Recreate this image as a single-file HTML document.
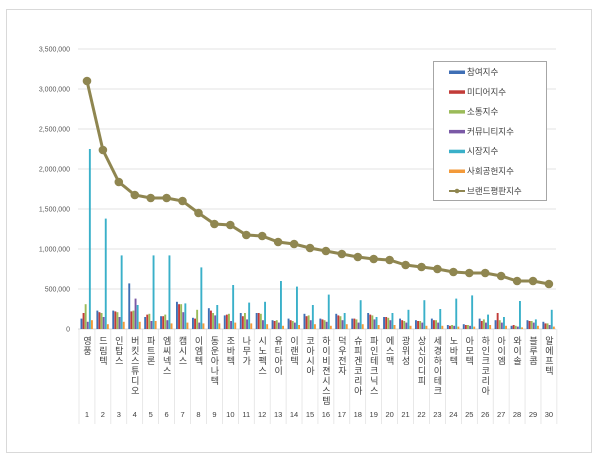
<!DOCTYPE html>
<html><head><meta charset="utf-8"><style>
body{margin:0;background:#fff;}
svg{display:block;font-family:"Liberation Sans","Noto Sans CJK KR",sans-serif;}
</style></head><body>
<svg id="s" width="600" height="459" xmlns="http://www.w3.org/2000/svg"></svg>
<script>
const s=document.getElementById('s');
let h='<rect x="6.5" y="9.5" width="585" height="443" fill="#fff" stroke="#d9d9d9"/>';
const y0=329,k=40/500000;
const labs=["0","500,000","1,000,000","1,500,000","2,000,000","2,500,000","3,000,000","3,500,000"];
for(let i=0;i<8;i++){const y=y0-i*40;
 if(i>0)h+=`<line x1="78" x2="556" y1="${y}" y2="${y}" stroke="#e3e3e3"/>`;
 h+=`<text x="70" y="${y+2.5}" font-size="7" fill="#595959" text-anchor="end">${labs[i]}</text>`;}
h+=`<line x1="78" x2="556" y1="${y0}" y2="${y0}" stroke="#d9d9d9"/>`;
const names=["영풍","드림텍","인탑스","버킷스튜디오","파트론","엠씨넥스","캠시스","이엠텍","동운아나텍","좋바텍","나무가","시노펙스","유티아이","이랜텍","코아시아","하이비젼시스템","덕우전자","슈피겐코리아","파인테크닉스","에스맥","광위성","상신이디피","세경하이테크","노바텍","아모텍","하인크코리아","아이엠","와이솔","블루콤","알에프텍"];
names[9]="조바텍";names[20]="광위성";
const cw=15.93,x0=79;
const line=[81,150,182,195,198,198,201,213,224,225,235,236,242,244,248,251,254,257,259,260,265,267,269,272,273,273,276,281,281,284];
const mk=[2250,1380,920,300,920,920,320,770,300,550,330,340,600,530,300,430,200,360,150,200,240,360,250,380,420,180,150,350,120,240];
const b1=[130,230,230,570,150,160,340,140,260,170,200,200,110,130,190,130,190,130,200,150,130,110,130,50,60,130,110,40,110,90];
const b2=[200,210,220,220,180,160,310,130,230,180,160,200,100,110,160,120,170,130,180,150,110,100,110,40,50,100,200,50,100,70];
const b3=[310,200,210,230,190,180,310,240,200,190,200,190,110,100,170,110,160,120,170,140,100,100,110,50,50,120,110,40,100,70];
const b4=[90,150,150,380,100,110,210,80,170,100,120,110,80,80,110,90,110,80,120,110,80,80,80,40,40,80,80,30,80,50];
const b6=[110,60,90,90,100,70,80,70,70,80,70,60,40,50,60,40,60,60,50,50,40,40,40,30,30,50,40,20,40,30];
const ser=[[b1,"#3f6fb5"],[b2,"#c23b38"],[b3,"#9bbb59"],[b4,"#7a59a6"],[mk,"#3ab0c9"],[b6,"#f39a3a"]];
for(let i=0;i<30;i++){const cx=x0+cw*i+cw/2;
 ser.forEach((sv,j)=>{const v=sv[0][i]*1000*k;const x=cx-6.5+j*2.1;
  h+=`<rect x="${x.toFixed(1)}" y="${(y0-v).toFixed(1)}" width="1.9" height="${v.toFixed(1)}" fill="${sv[1]}"/>`;});
 const sx=x0+cw*(i+1);
 h+=`<line x1="${sx}" x2="${sx}" y1="${y0}" y2="424" stroke="#d9d9d9" stroke-width="0.6"/>`;
 h+=`<text x="${cx}" y="336" font-size="9" fill="#404040" style="writing-mode:vertical-rl;text-orientation:upright;letter-spacing:1px">${names[i]}</text>`;
 h+=`<text x="${cx}" y="417" font-size="7.5" fill="#404040" text-anchor="middle">${i+1}</text>`;}
h+=`<line x1="${x0}" x2="${x0}" y1="${y0}" y2="424" stroke="#d9d9d9" stroke-width="0.6"/>`;
let pts=line.map((y,i)=>`${(x0+cw*i+cw/2).toFixed(1)},${y}`).join(' ');
h+=`<polyline points="${pts}" fill="none" stroke="#8f8650" stroke-width="3"/>`;
line.forEach((y,i)=>{h+=`<circle cx="${(x0+cw*i+cw/2).toFixed(1)}" cy="${y}" r="4.3" fill="#8f8650"/>`;});
h+='<rect x="433.5" y="61.5" width="113" height="139" fill="#fff" stroke="#a6a6a6"/>';
const lg=[["참여지수","#3f6fb5"],["미디어지수","#c23b38"],["소통지수","#9bbb59"],["커뮤니티지수","#7a59a6"],["시장지수","#3ab0c9"],["사회공헌지수","#f39a3a"]];
lg.forEach((l,i)=>{const y=72+i*19.8;h+=`<rect x="449" y="${y-1.5}" width="16" height="3.5" fill="${l[1]}"/><text x="467" y="${y+3}" font-size="8.5" fill="#404040">${l[0]}</text>`;});
h+='<line x1="449" x2="465" y1="191" y2="191" stroke="#8f8650" stroke-width="2"/><circle cx="457" cy="191" r="2.3" fill="#8f8650"/><text x="467" y="194" font-size="8.5" fill="#404040">브랜드평판지수</text>';
s.innerHTML=h;
</script>
</body></html>
